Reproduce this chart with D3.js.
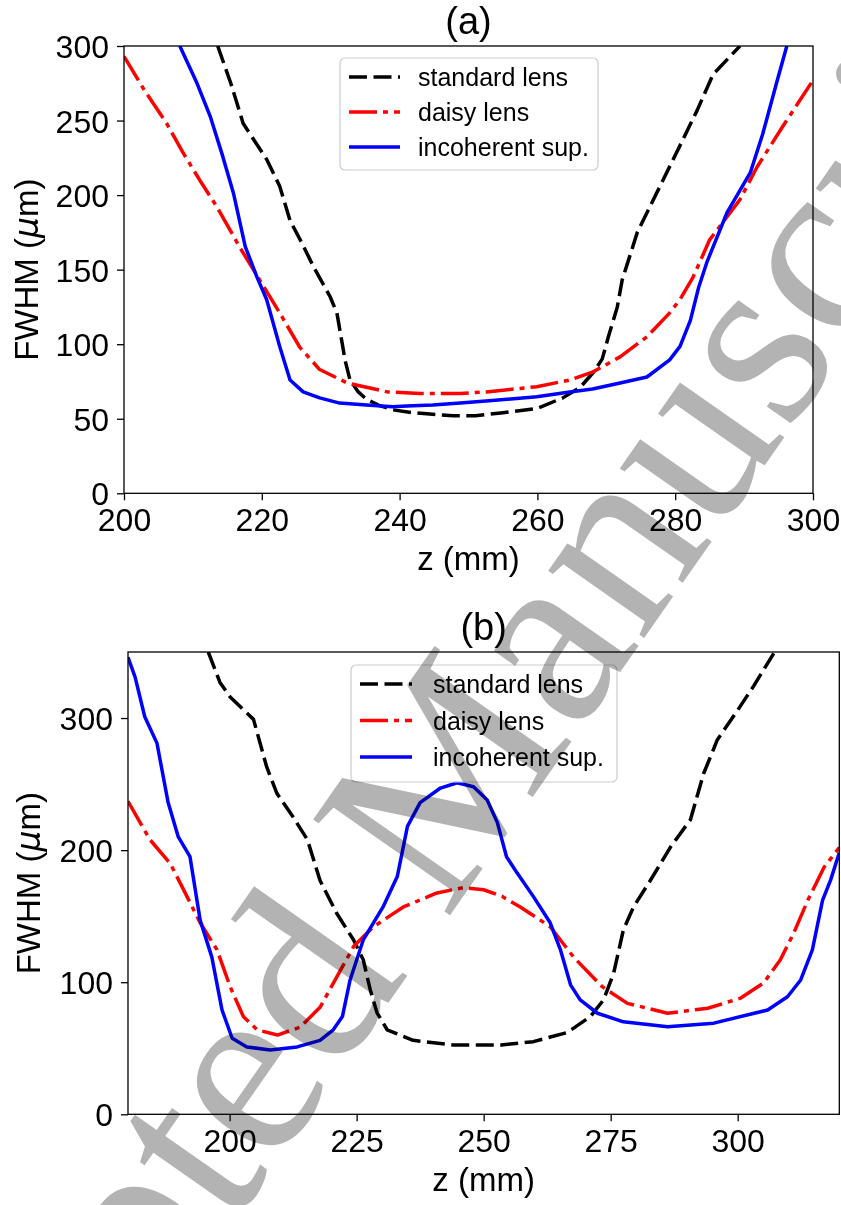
<!DOCTYPE html>
<html>
<head>
<meta charset="utf-8">
<script src="https://cdn.jsdelivr.net/npm/d3@7"></script>
<style>
  html, body { margin: 0; padding: 0; background: #fff; }
  svg { display: block; }
  .wm { mix-blend-mode: multiply; }
</style>
</head>
<body>
<svg id="chart" width="841" height="1205"></svg>
<script>
// ---------- data ----------
const seriesNames = ["standard lens", "daisy lens", "incoherent sup."];

// panel (a)
const stdA_z = [213.6, 215.5, 217.3, 219.0, 220.7, 222.6, 224.1, 225.8, 227.5, 229.9, 230.9, 232.1, 232.8, 234.0, 235.2, 237.0, 239.0, 242.0, 244.8, 247.8, 251.0, 255.0, 260.0, 263.7, 266.2, 268.1, 269.4, 270.3, 271.6, 272.3, 274.5, 277.8, 281.1, 283.2, 285.5, 289.4];
const stdA_v = [300, 275, 248, 236, 224, 206, 183, 168, 152, 132, 121, 89, 76, 68, 63, 59, 56, 54, 53, 52, 52, 54, 57, 64, 71, 81, 90, 105, 125, 143, 175, 206, 237, 257, 281, 300];
const daisyA_z = [200.0, 203.0, 206.2, 208.5, 211.0, 213.5, 216.8, 219.7, 222.6, 225.5, 228.4, 232.4, 238.2, 243.0, 248.8, 252.6, 259.9, 264.7, 268.1, 272.0, 275.9, 279.2, 280.7, 282.6, 285.0, 289.4, 291.9, 295.6, 300.0];
const daisyA_v = [293, 270, 248, 229, 210, 192, 165, 143, 121, 98, 83, 74, 68, 67, 67, 68, 71.5, 76, 81.5, 91.5, 105, 121, 130, 145, 170, 197, 219, 246, 277];
const incA_z = [208.1, 210.6, 212.5, 214.2, 215.9, 217.6, 219.3, 220.7, 222.6, 224.1, 226.0, 228.4, 231.3, 235.2, 239.0, 241.0, 244.8, 248.8, 253.0, 259.9, 264.7, 268.0, 272.0, 275.9, 279.2, 280.7, 282.2, 283.4, 284.6, 287.5, 290.9, 292.7, 294.7, 296.2];
const incA_v = [300, 275, 253, 228, 201, 165.5, 145, 130, 98.5, 76, 68, 64, 60.5, 59.3, 58, 58.5, 59.2, 60.5, 62, 64.7, 68, 70, 74, 78, 89.5, 98.5, 116, 138, 155, 188, 215, 241, 275, 300];

// panel (b)
const stdB_z = [195.8, 198.1, 200.1, 204.7, 207.3, 209.3, 212.5, 215.3, 217.8, 221.1, 224.4, 226.3, 227.7, 229.0, 231.0, 236.1, 244.0, 253.5, 259.8, 266.5, 271.0, 273.6, 275.6, 277.5, 279.5, 282.8, 286.8, 290.7, 293.3, 296.0, 300.0, 303.1, 307.1];
const stdB_v = [350, 327, 316, 299, 263, 243, 225, 208, 177, 152, 132, 117, 94, 77, 64, 56, 52.5, 52.5, 55, 62, 74, 86.6, 107, 139.6, 157, 177, 202.5, 223, 258, 283.6, 306, 324, 349];
const daisyB_z = [180.0, 184.3, 188.3, 191.6, 194.2, 197.5, 200.1, 202.7, 205.4, 209.4, 213.9, 217.8, 221.1, 224.4, 228.3, 234.2, 240.8, 246.0, 250.0, 253.6, 257.2, 263.1, 267.7, 273.3, 278.3, 286.2, 294.1, 300.6, 305.1, 308.4, 311.0, 313.8, 317.0, 320.0];
const daisyB_v = [237, 208, 190, 165, 145, 124.7, 96.7, 74, 64, 60, 66, 81, 104, 127, 142, 157, 167.6, 171.6, 170, 165, 157, 142, 119, 96.7, 84, 76.5, 80.3, 88, 99.4, 117, 137, 162, 187, 202];
const incB_z = [180.0, 181.4, 183.3, 185.7, 187.9, 189.9, 192.2, 194.2, 196.5, 198.5, 200.5, 203.4, 208.0, 213.3, 217.8, 220.4, 222.2, 223.7, 226.3, 230.2, 233.0, 235.0, 237.5, 241.5, 244.8, 248.0, 250.7, 252.7, 254.5, 256.6, 259.8, 263.1, 265.1, 267.1, 269.0, 272.4, 277.5, 286.2, 295.3, 305.9, 309.8, 312.4, 314.7, 316.7, 318.3, 320.0];
const incB_v = [346, 331, 301, 281, 236, 210, 195, 147, 119, 79, 57.6, 51, 48.7, 51, 56, 64, 74, 101.5, 132, 157, 180, 218, 236, 247, 251, 248, 238, 220.8, 195, 182.6, 164.8, 145, 124.7, 98, 86.6, 76.5, 70, 66.3, 69, 79, 89, 101.7, 124.5, 162, 177.5, 198];

// ticks
const xTicksA = [200, 220, 240, 260, 280, 300];
const yTicksA = [0, 50, 100, 150, 200, 250, 300];
const xTicksB = [200, 225, 250, 275, 300];
const yTicksB = [0, 100, 200, 300];

const titles = ["(a)", "(b)"];
const xLabel = "z (mm)";
const watermarkText = "Accepted Manuscript";

// ---------- styles ----------
const FONT = "'Liberation Sans', Arial, Helvetica, sans-serif";
const styles = [
  { color: "#000000", dash: "18,6.5", width: 3.5 },
  { color: "#ff0000", dash: "28,6,5,6", width: 3.5 },
  { color: "#0000ff", dash: null, width: 3.5 }
];

const svg = d3.select("#chart");

function drawPanel(cfg) {
  const x = d3.scaleLinear().domain(cfg.xDomain).range([cfg.left, cfg.right]);
  const y = d3.scaleLinear().domain(cfg.yDomain).range([cfg.bottom, cfg.top]);
  const g = svg.append("g");

  const clipId = "clip" + cfg.id;
  svg.append("defs").append("clipPath").attr("id", clipId)
    .append("rect").attr("x", cfg.left).attr("y", cfg.top)
    .attr("width", cfg.right - cfg.left).attr("height", cfg.bottom - cfg.top);

  const lineGen = d3.line().x(d => x(d[0])).y(d => y(d[1]));
  const lines = g.append("g").attr("clip-path", `url(#${clipId})`);
  cfg.series.forEach((s, i) => {
    const pts = s.z.map((zz, k) => [zz, s.v[k]]);
    lines.append("path").datum(pts)
      .attr("d", lineGen)
      .attr("fill", "none")
      .attr("stroke", styles[i].color)
      .attr("stroke-width", styles[i].width)
      .attr("stroke-dasharray", styles[i].dash)
      .attr("stroke-linejoin", "round");
  });

  // axes
  const xAxis = d3.axisBottom(x).tickValues(cfg.xTicks).tickFormat(d3.format("d")).tickSize(7).tickPadding(8);
  const yAxis = d3.axisLeft(y).tickValues(cfg.yTicks).tickFormat(d3.format("d")).tickSize(7).tickPadding(8);
  const gx = g.append("g").attr("transform", `translate(0,${cfg.bottom})`).call(xAxis);
  const gy = g.append("g").attr("transform", `translate(${cfg.left},0)`).call(yAxis);
  [gx, gy].forEach(a => {
    a.select(".domain").remove();
    a.selectAll(".tick line").attr("stroke", "#000").attr("stroke-width", 1.3);
    a.selectAll(".tick text").attr("font-family", FONT).attr("font-size", 32).attr("fill", "#000");
  });
  gy.selectAll(".tick text").attr("dy", "0.36em");

  // frame
  g.append("rect").attr("x", cfg.left).attr("y", cfg.top)
    .attr("width", cfg.right - cfg.left).attr("height", cfg.bottom - cfg.top)
    .attr("fill", "none").attr("stroke", "#000").attr("stroke-width", 1.3);

  // title
  g.append("text").attr("x", (cfg.left + cfg.right) / 2).attr("y", cfg.top - 12)
    .attr("text-anchor", "middle").attr("font-family", FONT).attr("font-size", 38)
    .text(cfg.title);

  // x label
  g.append("text").attr("x", (cfg.left + cfg.right) / 2).attr("y", cfg.bottom + 77)
    .attr("text-anchor", "middle").attr("font-family", FONT).attr("font-size", 33)
    .text(xLabel);

  // y label
  const yl = g.append("text")
    .attr("transform", `translate(${cfg.yLabelX},${(cfg.top + cfg.bottom) / 2}) rotate(-90)`)
    .attr("text-anchor", "middle").attr("font-family", FONT).attr("font-size", 33);
  yl.append("tspan").text("FWHM (");
  yl.append("tspan").attr("font-family", "'DejaVu Sans', sans-serif").attr("font-style", "italic").text("\u03bc");
  yl.append("tspan").text("m)");

  // legend
  const L = cfg.legend;
  g.append("rect").attr("x", L.x).attr("y", L.y).attr("width", L.w).attr("height", L.h)
    .attr("rx", 5).attr("ry", 5)
    .attr("fill", "#fff").attr("fill-opacity", 0.8)
    .attr("stroke", "#cccccc").attr("stroke-width", 1.2);
  seriesNames.forEach((name, i) => {
    const ry = L.row0 + i * L.dy;
    g.append("line").attr("x1", L.lx1).attr("x2", L.lx2).attr("y1", ry).attr("y2", ry)
      .attr("stroke", styles[i].color).attr("stroke-width", styles[i].width)
      .attr("stroke-dasharray", styles[i].dash);
    g.append("text").attr("x", L.tx).attr("y", ry + 9)
      .attr("font-family", FONT).attr("font-size", 25).attr("fill", "#000")
      .text(name);
  });
}

drawPanel({
  id: "a", title: titles[0],
  left: 124, right: 813, top: 46, bottom: 493.3,
  xDomain: [200, 300], yDomain: [0, 300],
  xTicks: xTicksA, yTicks: yTicksA, yLabelX: 38,
  series: [
    { z: stdA_z, v: stdA_v },
    { z: daisyA_z, v: daisyA_v },
    { z: incA_z, v: incA_v }
  ],
  legend: { x: 340, y: 58, w: 258, h: 112, row0: 77, dy: 35, lx1: 349, lx2: 400, tx: 418 }
});

drawPanel({
  id: "b", title: titles[1],
  left: 128, right: 839.3, top: 652, bottom: 1114.3,
  xDomain: [180, 320], yDomain: [0, 350],
  xTicks: xTicksB, yTicks: yTicksB, yLabelX: 40,
  series: [
    { z: stdB_z, v: stdB_v },
    { z: daisyB_z, v: daisyB_v },
    { z: incB_z, v: incB_v }
  ],
  legend: { x: 351, y: 665, w: 266, h: 117, row0: 684, dy: 36.5, lx1: 360, lx2: 412, tx: 433 }
});

// watermark
svg.append("text").attr("class", "wm")
  .attr("transform", "translate(-143,1762) rotate(-55)")
  .attr("font-family", "'Liberation Serif', 'Times New Roman', serif")
  .attr("font-size", 255)
  .attr("fill", "#b3b3b3")
  .text(watermarkText);
</script>
</body>
</html>
